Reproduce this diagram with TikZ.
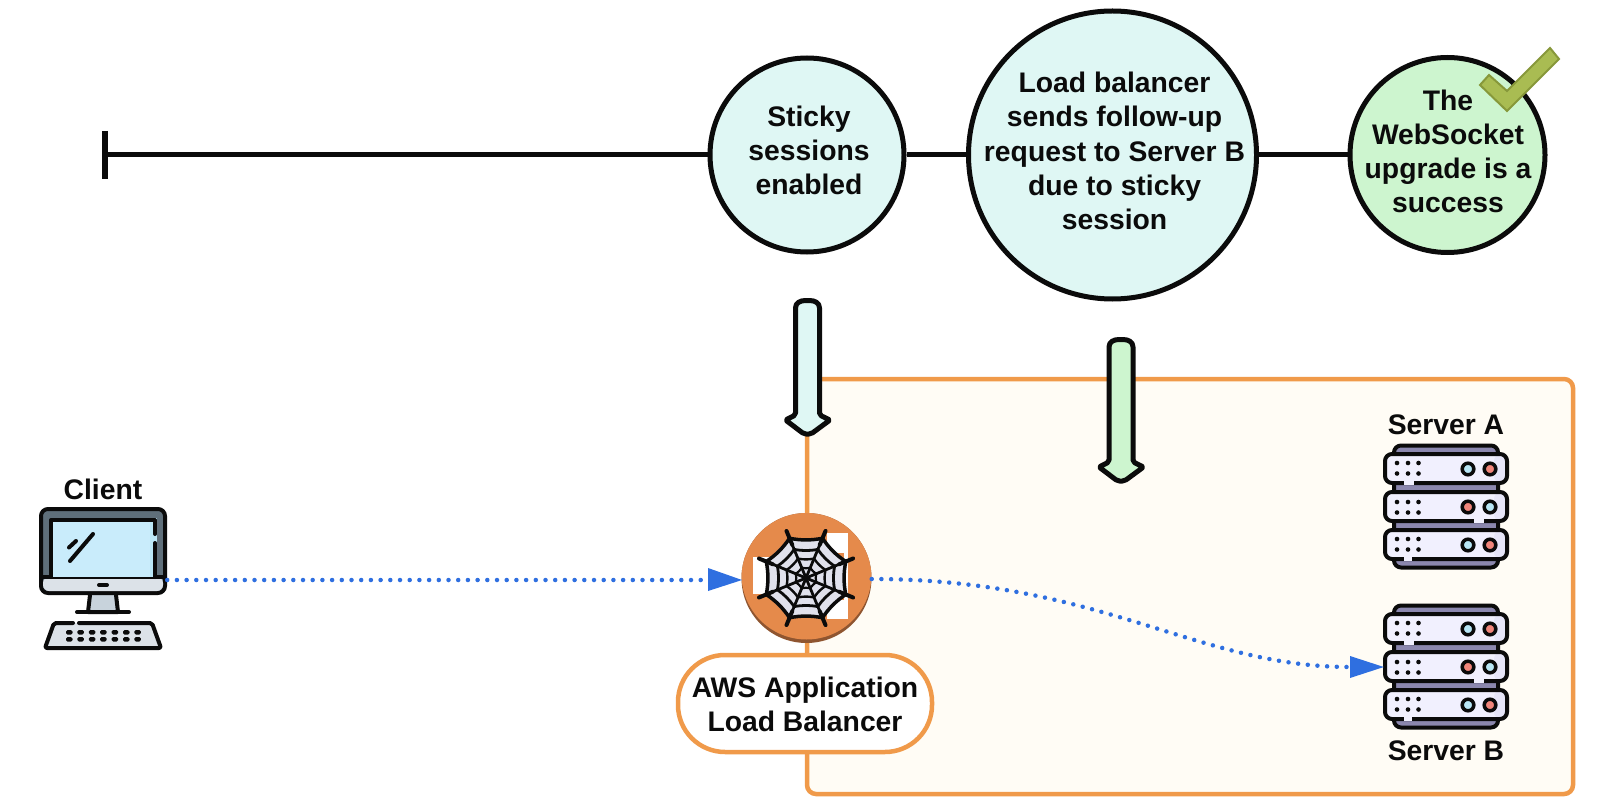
\documentclass[tikz,border=0pt]{standalone}
\usepackage{fontspec}
\setmainfont{Liberation Sans}
\usetikzlibrary{arrows.meta}
\definecolor{ink}{HTML}{0B0B0B}
\definecolor{tealfill}{HTML}{DFF7F4}
\definecolor{greenfill}{HTML}{CDF5CF}
\definecolor{framecol}{HTML}{F09A4A}
\definecolor{framefill}{HTML}{FFFCF5}
\definecolor{lbcol}{HTML}{E58A4B}
\definecolor{lbdark}{HTML}{8F5530}
\definecolor{flow}{HTML}{2F6FE0}
\definecolor{srvfill}{HTML}{F1F0FE}
\definecolor{srvshade}{HTML}{E6E5F8}
\definecolor{srvcap}{HTML}{8B87AE}
\definecolor{ledblue}{HTML}{B8E6F5}
\definecolor{ledred}{HTML}{F0857A}
\definecolor{bezel}{HTML}{5F6F7A}
\definecolor{screen}{HTML}{C9ECFB}
\definecolor{metal}{HTML}{DCE2E8}
\definecolor{stand}{HTML}{C8D3DC}
\definecolor{webfill}{HTML}{E0E1EC}
\definecolor{checkfill}{HTML}{A9BC52}
\definecolor{checkline}{HTML}{87983A}
\tikzset{
  txt/.style={font=\fontsize{28.3}{34.2}\selectfont\bfseries,align=center,text=ink,inner sep=0pt},
  ring/.style={circle,draw=ink,line width=5pt,inner sep=0pt},
  tline/.style={draw=ink,line width=5pt},
  flowline/.style={draw=flow,line width=4.5pt,line cap=round,dash pattern=on 0pt off 9.7pt},
  flowtip/.style={fill=flow,draw=none},
  callout/.style={draw=ink,line width=5pt,line join=round},
  iconline/.style={draw=ink,line width=4pt,line cap=round,line join=round},
  anchorbox/.style={inner sep=0pt,draw=none,fill=none},
}
% server unit: top y, dot y shift, left led, right led, gap start, gap end
\newcommand{\srvunit}[6]{%
  \path[fill=srvfill,rounded corners=7pt] (1385,#1+2) rectangle (1507,#1+31);
  \path[fill=srvshade,rounded corners=7pt] (1494,#1+2) rectangle (1507,#1+31);
  \draw[iconline,rounded corners=7pt] (1385,#1+2) rectangle (1507,#1+31);
  \foreach \dx in {1397,1408,1418.5}{
    \fill[ink] (\dx,#1+#2) circle (2.3pt);
    \fill[ink] (\dx,#1+#2+10.5) circle (2.3pt);
  }
  \draw[ink,fill=#3,line width=3.5pt] (1468,#1+17) circle (5.8pt);
  \draw[ink,fill=#4,line width=3.5pt] (1490,#1+17) circle (5.8pt);
  \draw[srvfill,line width=4.4pt] (#5,#1+31) -- (#6,#1+31);
}
\newcommand{\srvicon}[1]{%
  \begin{scope}[shift={(0,#1)}]
    \draw[iconline,fill=srvcap,rounded corners=7pt] (1394,445.5) rectangle (1498,567.5);
    \srvunit{452}{11}{ledblue}{ledred}{1404}{1414}
    \srvunit{490}{12}{ledred}{ledblue}{1474}{1484}
    \srvunit{528}{11}{ledblue}{ledred}{1404}{1412}
  \end{scope}
}
\begin{document}
\begin{tikzpicture}[x=1pt,y=-1pt]
\useasboundingbox (0,0) rectangle (1624,810);
\fill[white] (0,0) rectangle (1624,810);

% frame
\draw[draw=framecol,fill=framefill,line width=4.5pt,rounded corners=9pt] (807,379) rectangle (1573,794);

% timeline
\coordinate (tstart) at (105,155);
\draw[ink,line width=5.6pt] (105,131) -- (105,179);
\node[ring,fill=tealfill,minimum size=194pt] (c1) at (807,155) {};
\node[ring,fill=tealfill,minimum size=288pt] (c2) at (1112.5,155) {};
\node[ring,fill=greenfill,minimum size=195pt] (c3) at (1447.5,155) {};
\draw[tline] (tstart) -- (c1.west);
\draw[tline] (c1.east) -- (c2.west);
\draw[tline] (c2.east) -- (c3.west);
\node[txt] (t1) at (809,150.5) {Sticky\\sessions\\enabled};
\node[txt] (t2) at (1114.5,151) {Load balancer\\sends follow-up\\request to Server B\\due to sticky\\session};
\node[txt] (t3) at (1448,151.5) {The\\WebSocket\\upgrade is a\\success};

% check mark
\path[fill=checkfill,draw=checkline,line width=2pt,line join=miter]
  (1480,85) -- (1489,75) -- (1507,91) -- (1550,48) -- (1559,59) -- (1507,111) -- cycle;

% callout arrows
\draw[callout,fill=tealfill,rounded corners=2pt]
  (795.5,415) -- (795.5,310) .. controls (795.5,303) and (800,300.5) .. (807.5,300.5)
  .. controls (815,300.5) and (819.5,303) .. (819.5,310) -- (819.5,415)
  -- (830,420) -- (811,434) -- (804,434) -- (785.5,420) -- cycle;
\draw[callout,fill=greenfill,rounded corners=2pt]
  (1109,462) -- (1109,349) .. controls (1109,342) and (1113.5,339.5) .. (1121,339.5)
  .. controls (1128.5,339.5) and (1133,342) .. (1133,349) -- (1133,462)
  -- (1143.5,467) -- (1124.5,481) -- (1117.5,481) -- (1099,467) -- cycle;

% client
\node[txt] (clientlabel) at (103,489.5) {Client};
\node[anchorbox,minimum width=128pt,minimum height=88pt] (client) at (103,551) {};
\draw[iconline,fill=stand] (90,595) -- (88,612) -- (118,612) -- (116,595);
\draw[iconline] (77,612) -- (129,612);
\draw[iconline,fill=bezel,rounded corners=7pt] (41,509) rectangle (165,593);
\path[fill=metal,rounded corners=6pt] (43,577) rectangle (163,591);
\draw[iconline] (41,577) -- (165,577);
\path[fill=screen] (51,518) rectangle (157,577);
\path[fill=ledblue!85!screen] (150,518) rectangle (157,577);
\draw[iconline] (51,577) -- (51,520) -- (155,520) -- (155,534);
\draw[iconline] (155,543) -- (155,577);
\draw[iconline] (70,561) -- (93,534);
\draw[iconline] (69,547.5) -- (76,541);
\draw[iconline] (99,585) -- (107,585);
\path[fill=metal] (53,623) -- (153,623) -- (161,648) -- (45,648) -- cycle;
\draw[iconline,rounded corners=2pt] (73,623) -- (54,623) -- (45,648) -- (161,648) -- (152,623) -- (79,623);
\foreach \k in {0,...,6}{
  \fill[ink,rounded corners=1.5pt] ({66+11.4*\k},630) rectangle ++(6.5,4.5);
  \fill[ink,rounded corners=1.5pt] ({66+11.4*\k},637) rectangle ++(6.5,4.5);
}

% load balancer
\node[circle,fill=lbdark,draw=none,inner sep=0pt,minimum size=130pt] (lb) at (806.5,578) {};
\begin{scope}
  \clip (806.5,578) circle (65pt);
  \fill[lbcol] (806.5,574.5) circle (65pt);
\end{scope}
\fill[white] (753,557) rectangle (776,594);
\fill[white] (827,533) rectangle (848,553);
\fill[white] (844,553) rectangle (848,600);
\fill[white] (827,600) rectangle (848,619);
\begin{scope}[shift={(806,578)},line join=round,line cap=round]
  \path[fill=webfill] (22.5:43) \foreach \a in {67.5,112.5,...,382.5}{ -- (\a:43)} -- cycle;
  \foreach \r/\w in {43/3.5,31/2.8,21/2.4,11/2.2}{
    \draw[ink,line width=\w pt] (22.5:\r)
      \foreach \a in {67.5,112.5,...,382.5}{ .. controls ({\a-30}:{\r*.88}) and ({\a-15}:{\r*.88}) .. (\a:\r)};
  }
  \foreach \a in {22.5,67.5,...,337.5}{
    \draw[ink,line width=2.8pt] (0,0) -- (\a:36);
    \draw[ink,line width=4pt] (\a:36) -- (\a:51);
  }
\end{scope}

% pill
\node[draw=framecol,fill=white,line width=4.5pt,rounded corners=47pt,minimum width=254pt,minimum height=97pt,inner sep=0pt] (pill) at (805,703.5) {};
\node[txt] (pilltext) at (805,704) {AWS Application\\Load Balancer};

% servers
\node[txt] (labelA) at (1446,424.5) {Server A};
\srvicon{0}
\srvicon{160}
\node[txt] (labelB) at (1446,751) {Server B};
\node[anchorbox,minimum width=124pt,minimum height=33pt] (unitB) at (1446,667) {};

% flows
\path[flowline] (client.east |- 0,580) -- (708,580);
\path[flowtip] (742,580) -- (708,568) -- (708,591) -- cycle;
\coordinate (lbout) at (lb.east |- 0,579);
\path[flowline] (lbout) .. controls (1100,579) and (1197,667) .. (1350,667);
\path[flowtip] (unitB.west) -- (1350,656) -- (1350,678) -- cycle;
\end{tikzpicture}
\end{document}
